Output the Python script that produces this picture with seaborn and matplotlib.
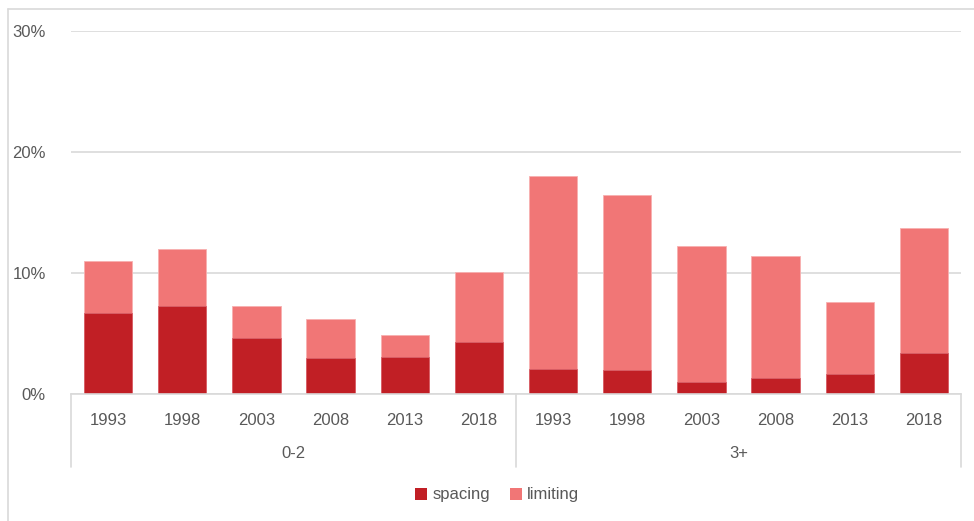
import matplotlib
matplotlib.use("Agg")
import matplotlib.pyplot as plt
from matplotlib.lines import Line2D
from matplotlib.patches import Patch
from matplotlib.ticker import PercentFormatter
import matplotlib.transforms as mtransforms
import seaborn as sns
import pandas as pd

# Share of households, by age group of the youngest child and survey year
groups = ["0-2", "3+"]
years = ["1993", "1998", "2003", "2008", "2013", "2018"]
spacing_02 = [0.067, 0.073, 0.046, 0.030, 0.0305, 0.043]
limiting_02 = [0.043, 0.047, 0.0265, 0.032, 0.018, 0.058]
spacing_3p = [0.0205, 0.0195, 0.010, 0.013, 0.0165, 0.034]
limiting_3p = [0.1595, 0.145, 0.112, 0.101, 0.0595, 0.103]

DARK = "#C11F25"
LIGHT = "#F17676"
TEXT = "#595959"
GRID = "#D9D9D9"

rows = []
for g, sp, lim in [("0-2", spacing_02, limiting_02), ("3+", spacing_3p, limiting_3p)]:
    for y, s, l in zip(years, sp, lim):
        rows.append({"group": g, "year": y, "slot": f"{g} {y}",
                     "spacing": s, "limiting": l})
df = pd.DataFrame(rows)
df["stack_top"] = df["spacing"] + df["limiting"]
order = list(df["slot"])

sns.set_theme(style="white")
plt.rcParams["font.family"] = ["Liberation Sans", "DejaVu Sans"]

fig = plt.figure(figsize=(9.74, 5.21), dpi=100)
W, H = 974, 521
ax = fig.add_axes([71 / W, (H - 394) / H, (961 - 71) / W, (394 - 31) / H])

# stacked bars: full stack in the light colour, spacing drawn over its lower part
sns.barplot(data=df, x="slot", y="stack_top", order=order, color=LIGHT,
            saturation=1, width=0.65, edgecolor="#F8B0B0", linewidth=0.6, ax=ax)
sns.barplot(data=df, x="slot", y="spacing", order=order, color=DARK,
            saturation=1, width=0.65, edgecolor="#D86068", linewidth=0.6, ax=ax)

ax.set_xlim(-0.5, len(order) - 0.5)
ax.set_ylim(0, 0.30)
ax.set_yticks([0, 0.10, 0.20, 0.30])
ax.yaxis.set_major_formatter(PercentFormatter(1.0, decimals=0))
ax.grid(axis="y", color=GRID, linewidth=1.2)
ax.set_axisbelow(True)
for side in ["top", "right", "left"]:
    ax.spines[side].set_visible(False)
ax.spines["bottom"].set_color(GRID)
ax.spines["bottom"].set_linewidth(1.2)
ax.tick_params(axis="y", length=0, pad=18, labelsize=12, labelcolor=TEXT)
ax.tick_params(axis="x", length=0, pad=14, labelsize=12, labelcolor=TEXT)
ax.set_xticks(range(len(order)))
ax.set_xticklabels(list(df["year"]))
ax.set_xlabel("")
ax.set_ylabel("")

# two-level category axis: group labels and separators
trans = mtransforms.blended_transform_factory(ax.transData, ax.transAxes)
sep_bottom = -(467 - 394) / (394 - 31)
for xpos in [-0.5, 5.5, 11.5]:
    ax.add_line(Line2D([xpos, xpos], [0, sep_bottom], transform=trans,
                       color=GRID, linewidth=1.2, clip_on=False))
label_y = -(454 - 394) / (394 - 31)
for i, g in enumerate(groups):
    ax.text(2.5 + 6 * i, label_y, g, transform=trans, ha="center", va="center",
            fontsize=12, color=TEXT)

# legend
handles = [Patch(facecolor=DARK, edgecolor="none", label="spacing"),
           Patch(facecolor=LIGHT, edgecolor="none", label="limiting")]
fig.legend(handles=handles, loc="center", bbox_to_anchor=(497 / W, (H - 495) / H),
           ncol=2, frameon=False, fontsize=12, handlelength=0.75, handleheight=0.75,
           handletextpad=0.3, columnspacing=1.2, labelcolor=TEXT)

# chart frame
fig.add_artist(Line2D([7.5 / W, 1], [(H - 8.5) / H, (H - 8.5) / H],
                      transform=fig.transFigure, color=GRID, linewidth=1.2))
fig.add_artist(Line2D([7.5 / W, 7.5 / W], [0, (H - 8.5) / H],
                      transform=fig.transFigure, color=GRID, linewidth=1.2))

fig.savefig("out.png", dpi=100, facecolor="white")
